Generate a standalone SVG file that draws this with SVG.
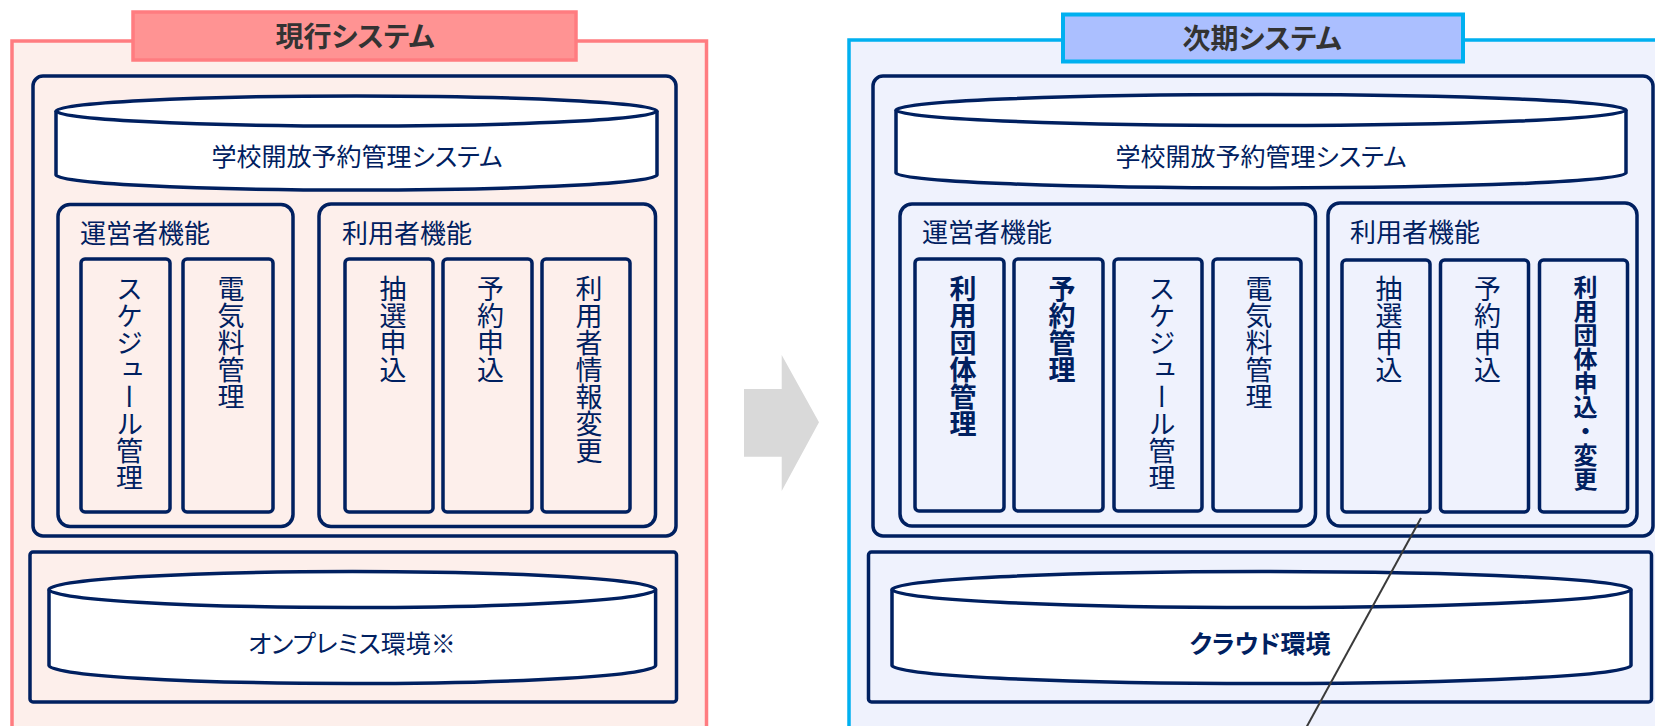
<svg xmlns="http://www.w3.org/2000/svg" width="1655" height="726" viewBox="0 0 1655 726">
<defs>
<style>
.nv{fill:none;stroke:#002060;stroke-width:3.5}
.cyl{fill:#fff;stroke:#002060;stroke-width:3.5}
.t{font-family:"Noto Sans CJK JP","Noto Sans",sans-serif;fill:#002060}
.h{font-size:26px;font-feature-settings:"palt"}
.hc{font-size:25px;font-feature-settings:"palt";text-anchor:middle}
.v{font-size:27px;writing-mode:vertical-rl}
.b{font-weight:bold}
.ttl{font-family:"Noto Sans CJK JP","Noto Sans",sans-serif;font-weight:bold;font-size:28px;fill:#333;text-anchor:middle;font-feature-settings:"palt"}
</style>
</defs>
<rect width="1655" height="726" fill="#fff"/>

<g id="current-system">
<rect x="12" y="41" width="694.5" height="720" fill="#FDEFEB" stroke="#FF7C80" stroke-width="3.5"/>
<rect x="133" y="12" width="443" height="48" fill="#FF9393" stroke="#FF7C80" stroke-width="3.5"/>
<text class="ttl" x="355" y="47">現行システム</text>
</g>

<g id="next-system">
<rect x="849" y="40" width="900" height="720" fill="#EFF2FD" stroke="#00B0F0" stroke-width="3.5"/>
<rect x="1063" y="14.5" width="400" height="47" fill="#ABBFFF" stroke="#00B0F0" stroke-width="4"/>
<text class="ttl" x="1262" y="49">次期システム</text>
</g>

<g id="arrow">
<polygon points="744,389 781.7,389 781.7,355 819,422.3 781.7,491 781.7,456.7 744,456.7" fill="#D9D9D9"/>
</g>

<g id="left-app">
<rect class="nv" x="33" y="76" width="643" height="460" rx="10"/>
<path class="cyl" d="M56,111 L56,175 A300.5,15 0 0 0 657,175 L657,111"/>
<ellipse class="cyl" cx="356.5" cy="111" rx="300.5" ry="15"/>
<text class="t hc" x="357" y="166">学校開放予約管理システム</text>
</g>

<g id="left-operator">
<rect class="nv" x="58" y="204.5" width="235" height="322" rx="12"/>
<text class="t h" x="80" y="243">運営者機能</text>
<rect class="nv" x="81" y="259" width="89" height="253" rx="4"/>
<text class="t v" x="129.5" y="275">スケジュール管理</text>
<rect class="nv" x="183" y="259" width="90" height="253" rx="4"/>
<text class="t v" x="231" y="275">電気料管理</text>
</g>

<g id="left-user">
<rect class="nv" x="319" y="204" width="336.5" height="322.5" rx="12"/>
<text class="t h" x="342" y="243">利用者機能</text>
<rect class="nv" x="345" y="259" width="88" height="253" rx="4"/>
<text class="t v" x="393" y="275">抽選申込</text>
<rect class="nv" x="443" y="259" width="89" height="253" rx="4"/>
<text class="t v" x="490.5" y="275">予約申込</text>
<rect class="nv" x="542" y="259" width="88" height="253" rx="4"/>
<text class="t v" x="589" y="275">利用者情報変更</text>
</g>

<g id="left-infra">
<rect class="nv" x="30" y="552" width="646.5" height="150" rx="3"/>
<path class="cyl" d="M49,589.5 L49,665.5 A303.3,18 0 0 0 655.6,665.5 L655.6,589.5"/>
<ellipse class="cyl" cx="352.3" cy="589.5" rx="303.3" ry="18"/>
<text class="t hc" x="352" y="653">オンプレミス環境※</text>
</g>

<g id="right-app">
<rect class="nv" x="873" y="76" width="780" height="460" rx="10"/>
<path class="cyl" d="M896,110 L896,173 A365,15 0 0 0 1626,173 L1626,110"/>
<ellipse class="cyl" cx="1261" cy="110" rx="365" ry="15.5"/>
<text class="t hc" x="1261" y="166">学校開放予約管理システム</text>
</g>

<g id="right-operator">
<rect class="nv" x="900" y="204" width="415.5" height="322" rx="12"/>
<text class="t h" x="922" y="242">運営者機能</text>
<rect class="nv" x="915" y="259" width="89" height="252" rx="4"/>
<text class="t v b" x="963" y="275">利用団体管理</text>
<rect class="nv" x="1014" y="259" width="89" height="252" rx="4"/>
<text class="t v b" x="1062" y="275">予約管理</text>
<rect class="nv" x="1114" y="259" width="88" height="252" rx="4"/>
<text class="t v" x="1162" y="275">スケジュール管理</text>
<rect class="nv" x="1213" y="259" width="88" height="252" rx="4"/>
<text class="t v" x="1259" y="275">電気料管理</text>
</g>

<g id="right-user">
<rect class="nv" x="1328" y="203" width="309" height="323" rx="12"/>
<text class="t h" x="1350" y="242">利用者機能</text>
<rect class="nv" x="1342" y="260" width="88" height="252" rx="4"/>
<text class="t v" x="1389" y="275">抽選申込</text>
<rect class="nv" x="1440.5" y="260" width="88" height="252" rx="4"/>
<text class="t v" x="1487.5" y="275">予約申込</text>
<rect class="nv" x="1539.5" y="260" width="88" height="252" rx="4"/>
<text class="t v b" x="1585.5" y="275" style="font-size:24px">利用団体申込・変更</text>
</g>

<g id="right-infra">
<rect class="nv" x="868.5" y="552" width="783" height="150" rx="3"/>
<path class="cyl" d="M892,589.5 L892,665.5 A369.5,18 0 0 0 1631,665.5 L1631,589.5"/>
<ellipse class="cyl" cx="1261.5" cy="589.5" rx="369.5" ry="18"/>
<text class="t hc b" x="1260" y="653">クラウド環境</text>
</g>

<g id="connectors">
<line x1="1421" y1="518" x2="1306" y2="728" stroke="#3A3A3A" stroke-width="2"/>
</g>
</svg>
